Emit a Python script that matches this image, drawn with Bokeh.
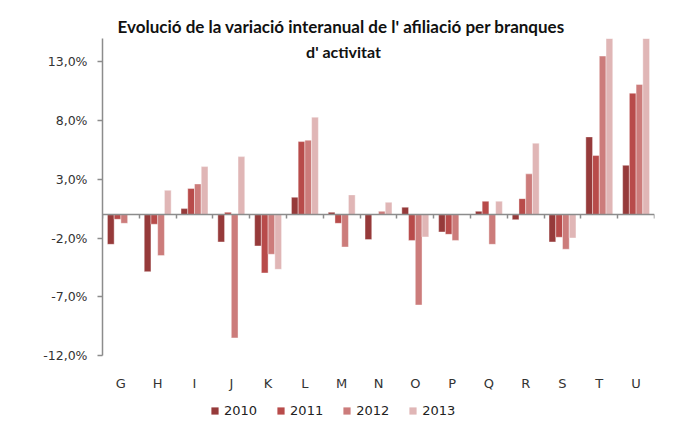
from bokeh.plotting import figure
from bokeh.models import ColumnDataSource, FixedTicker, LinearAxis, Label, Range1d, Legend, LegendItem
from bokeh.layouts import column
from bokeh.embed import file_html
from bokeh.resources import INLINE

categories = ["G", "H", "I", "J", "K", "L", "M", "N", "O", "P", "Q", "R", "S", "T", "U"]
years = ["2010", "2011", "2012", "2013"]
v2010 = [-2.53, -4.86, 0.51, -2.33, -2.67, 1.48, 0.20, -2.13, 0.63, -1.48, 0.28, -0.43, -2.33, 6.62, 4.20]
v2011 = [-0.40, -0.82, 2.22, 0.20, -4.97, 6.22, -0.74, 0.00, -2.20, -1.68, 1.14, 1.36, -1.93, 5.03, 10.34]
v2012 = [-0.74, -3.49, 2.61, -10.50, -3.38, 6.34, -2.76, 0.28, -7.70, -2.20, -2.53, 3.47, -2.95, 13.50, 11.08]
v2013 = [0.00, 2.07, 4.09, 4.94, -4.66, 8.30, 1.68, 1.05, -1.90, 0.00, 1.14, 6.08, -1.99, 16.50, 17.00]
y_ticks = [-12, -7, -2, 3, 8, 13]
title_lines = ["Evolució de la variació interanual de l' afiliació per branques", "d' activitat"]

series = [v2010, v2011, v2012, v2013]
colors = ["#963A3A", "#B84B4A", "#CC7C7B", "#E0B6B6"]

# top rule: a small figure whose 3px-high frame is filled black
rule = figure(width=675, height=8, output_backend="svg", toolbar_location=None,
              x_axis_type=None, y_axis_type=None, x_range=Range1d(0, 1), y_range=Range1d(0, 1),
              min_border_left=0, min_border_right=0, min_border_top=4, min_border_bottom=1,
              background_fill_color="#000000", border_fill_color="#FFFFFF")
rule.outline_line_color = None
rule.xgrid.grid_line_color = None
rule.ygrid.grid_line_color = None

W = 667
p = figure(width=W, height=387, output_backend="svg", toolbar_location=None,
           x_range=Range1d(0.5, len(categories) + 0.5), y_range=Range1d(-12, 15),
           min_border_left=102, min_border_right=13, min_border_top=30, min_border_bottom=40)
p.outline_line_color = None
p.xgrid.grid_line_color = None
p.ygrid.grid_line_color = None

pos = list(range(1, len(categories) + 1))
bw = 0.183
for j, (yr, vals, col) in enumerate(zip(years, series, colors)):
    xs = [i + (j - 1.5) * bw for i in pos]
    src = ColumnDataSource(dict(x=xs, top=vals))
    p.vbar(x="x", top="top", bottom=0, width=bw, source=src, fill_color=col,
           line_color="white", line_alpha=0.5, line_width=0.8)

# x axis at zero with boundary ticks
xa = p.xaxis[0]
xa.fixed_location = 0
xa.ticker = FixedTicker(ticks=[], minor_ticks=[i + 0.5 for i in range(0, len(categories) + 1)])
xa.axis_line_color = "#8C8C8C"
xa.axis_line_width = 1.5
xa.major_tick_line_color = None
xa.minor_tick_line_color = "#8C8C8C"
xa.minor_tick_line_width = 1.5
xa.minor_tick_out = 4
xa.minor_tick_in = 0
xa.major_label_text_font_size = "0px"

# category labels at bottom
la = LinearAxis(ticker=FixedTicker(ticks=pos),
                major_label_overrides={i: c for i, c in zip(pos, categories)})
la.axis_line_color = None
la.major_tick_line_color = None
la.minor_tick_line_color = None
la.major_label_standoff = 14
la.major_label_text_font = "DejaVu Sans"
la.major_label_text_font_size = "13px"
la.major_label_text_color = "#333333"
p.add_layout(la, "below")

ya = p.yaxis[0]
ya.ticker = FixedTicker(ticks=y_ticks)
ya.major_label_overrides = {t: f"{t},0%" for t in y_ticks}
ya.axis_line_color = "#8C8C8C"
ya.axis_line_width = 1.5
ya.major_tick_line_color = "#8C8C8C"
ya.major_tick_line_width = 1.5
ya.major_tick_out = 5
ya.major_tick_in = 0
ya.minor_tick_line_color = None
ya.major_label_standoff = 10
ya.major_label_text_font = "DejaVu Sans"
ya.major_label_text_font_size = "12.5px"
ya.major_label_text_color = "#333333"

# title
p.title.text = title_lines[0]
p.title.align = "left"
p.title.offset = 15
p.title.standoff = 3
p.title.text_font = "Lato"
p.title.text_font_style = "bold"
p.title.text_font_size = "17px"
p.title.text_color = "#111111"
p.add_layout(Label(x=241, y=304, x_units="screen", y_units="screen", text=title_lines[1],
                   text_align="center", text_baseline="middle", text_font="Lato",
                   text_font_style="bold", text_font_size="16px", text_color="#111111"))

# legend figure
pl = figure(width=W, height=40, output_backend="svg", toolbar_location=None,
            x_axis_type=None, y_axis_type=None, x_range=Range1d(0, 1), y_range=Range1d(0, 1),
            min_border_left=0, min_border_right=0, min_border_top=0, min_border_bottom=0)
pl.outline_line_color = None
pl.xgrid.grid_line_color = None
pl.ygrid.grid_line_color = None
items = []
for yr, col in zip(years, colors):
    r = pl.vbar(x=[0.5], top=[0], bottom=[0], width=0.0, fill_color=col, line_color=None)
    items.append(LegendItem(label=yr, renderers=[r]))
lg = Legend(items=items)
lg.orientation = "horizontal"
lg.location = (108, 17)
lg.padding = 0
lg.margin = 0
lg.spacing = 19
lg.glyph_width = 9
lg.glyph_height = 9
lg.label_standoff = 5
lg.border_line_color = None
lg.background_fill_alpha = 0
lg.label_text_font = "DejaVu Sans"
lg.label_text_font_size = "13px"
lg.label_text_color = "#222222"
pl.add_layout(lg, "center")

layout = column(rule, p, pl, spacing=0)
open("out.html", "w").write(file_html(layout, INLINE))
